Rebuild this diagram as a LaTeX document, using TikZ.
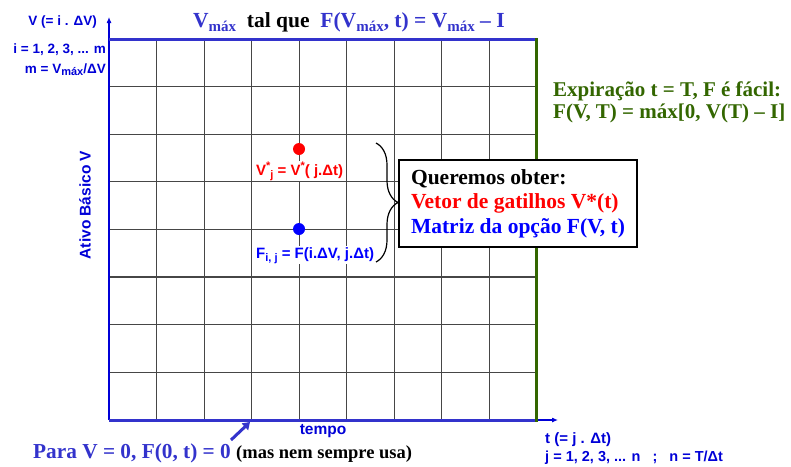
\documentclass[tikz,border=0pt]{standalone}
\usepackage{fontspec}
\setmainfont{Liberation Serif}
\newfontfamily\arialf{Liberation Sans}
\usetikzlibrary{arrows.meta,decorations.pathreplacing}
\definecolor{axblue}{RGB}{0,0,215}
\definecolor{thickblue}{RGB}{51,51,204}
\definecolor{dgreen}{RGB}{51,102,0}
\definecolor{txblue}{RGB}{0,0,255}
\definecolor{gridc}{RGB}{70,70,70}
\newcommand{\msub}[1]{\raisebox{-0.45ex}{\fontsize{15}{15}\selectfont #1}}
\newcommand{\ssub}[1]{\raisebox{-0.4ex}{\fontsize{11}{11}\selectfont #1}}
\newcommand{\ssup}[1]{\raisebox{0.7ex}{\fontsize{11}{11}\selectfont #1}}
\tikzset{
  gridline/.style={draw=gridc, line width=1.1pt},
  thickb/.style={draw=thickblue, line width=3pt},
  axisline/.style={draw=axblue, line width=1.1pt, -{Latex[length=6pt,width=5pt]}},
  sanslab/.style={inner sep=0pt, text=axblue, font=\arialf\bfseries\fontsize{13.5}{16}\selectfont},
  biglab/.style={inner sep=0pt, text=axblue, font=\arialf\bfseries\fontsize{15.5}{18}\selectfont},
  serlab/.style={inner sep=0pt, font=\bfseries\fontsize{21.5}{24}\selectfont},
}
\begin{document}
\begin{tikzpicture}[x=1pt,y=-1pt]
\useasboundingbox (0,0) rectangle (791,466);
% grid
\foreach \k in {1,...,8} { \draw[gridline] ({109+\k*47.55},39) -- ({109+\k*47.55},420); }
\foreach \k in {1,...,7} { \draw[gridline] (109,{39+\k*47.6}) -- (536,{39+\k*47.6}); }
% axes
\coordinate (origin) at (109,420);
\coordinate (ytip) at (109,17);
\coordinate (xtip) at (558,420);
\draw[axisline] (origin) -- (ytip);
\draw[axisline] (origin) -- (xtip);
% thick border lines
\coordinate (tl) at (109,39);
\coordinate (tr) at (537,39);
\coordinate (br) at (536,420);
\draw[thickb] (tl) -- (tr);
\draw[thickb] (origin) -- (br);
\draw[draw=dgreen, line width=3pt] (536,38) -- (536,421.5);
% axis labels
\node[sanslab, anchor=base east] (vlab) at (97,25) {V (= i . ΔV)};
\node[sanslab, anchor=base east] (ilab) at (106,53) {i = 1, 2, 3, ... m};
\node[sanslab, anchor=base east] (mlab) at (106,73) {m = V\ssub{máx}/ΔV};
\node[biglab, rotate=90] (ativo) at (85,205) {Ativo Básico V};
\node[biglab] (tempo) at (323,431) {tempo};
\node[sanslab, anchor=base west, font=\arialf\bfseries\fontsize{15}{15}\selectfont] (tlab) at (545,443) {t (= j . Δt)};
\node[sanslab, anchor=base west, font=\arialf\bfseries\fontsize{14.5}{15}\selectfont] (jlab) at (545,461) {j = 1, 2, 3, ... n\ \ \ ;\ \ \ n = T/Δt};
% title
\node[serlab, anchor=base west] (title) at (193,27) {\textcolor{thickblue}{V\msub{máx}}\ \ tal que\ \ \textcolor{thickblue}{F(V\msub{máx}, t) = V\msub{máx} – I}};
% expiry text
\node[serlab, anchor=base west, text=dgreen, font=\bfseries\fontsize{21}{21}\selectfont] (exp1) at (553,96) {Expiração t = T, F é fácil:};
\node[serlab, anchor=base west, text=dgreen, font=\bfseries\fontsize{21}{21}\selectfont] (exp2) at (553,118) {F(V, T) = máx[0, V(T) – I]};
% bottom text
\node[serlab, anchor=base west, text=thickblue, font=\bfseries\fontsize{21.3}{22}\selectfont] (para) at (33,458) {Para V = 0, F(0, t) = 0};
\node[serlab, anchor=base west, font=\bfseries\fontsize{18.5}{19}\selectfont] (mas) at (236,458) {(mas nem sempre usa)};
\coordinate (arrs) at (231,440);
\coordinate (arre) at (250,422);
\draw[draw=thickblue, line width=3pt, -{Triangle[length=7pt,width=9pt]}] (arrs) -- (arre);
% labels in grid
\node[biglab, anchor=base west, text=red, fill=white, inner sep=1pt, font=\arialf\bfseries\fontsize{15}{16}\selectfont] (vstar) at (255,175) {V\ssup{*}\ssub{j} = V\ssup{*}( j.Δt)};
\node[biglab, anchor=base west, text=txblue, fill=white, inner sep=1pt, font=\arialf\bfseries\fontsize{15}{16}\selectfont] (fij) at (255,258) {F\ssub{i, j} = F(i.ΔV, j.Δt)};
\node[circle, fill=red, inner sep=0pt, minimum size=12pt] (rdot) at (299,149) {};
\node[circle, fill=txblue, inner sep=0pt, minimum size=12pt] (bdot) at (299,229) {};
% brace
\coordinate (btop) at (376,143);
\coordinate (bbot) at (376,262);
\draw[decorate, decoration={brace, amplitude=22pt}, line width=1.2pt] (btop) -- (bbot);
% box
\node[draw, fill=white, line width=1.3pt, minimum width=238pt, minimum height=87pt, align=left, inner sep=0pt, font=\bfseries\fontsize{21.5}{24.5}\selectfont] (box) at (518,203.5) {Queremos obter:\\\textcolor{red}{Vetor de gatilhos V*(t)}\\\textcolor{txblue}{Matriz da opção F(V, t)}};
\end{tikzpicture}
\end{document}
